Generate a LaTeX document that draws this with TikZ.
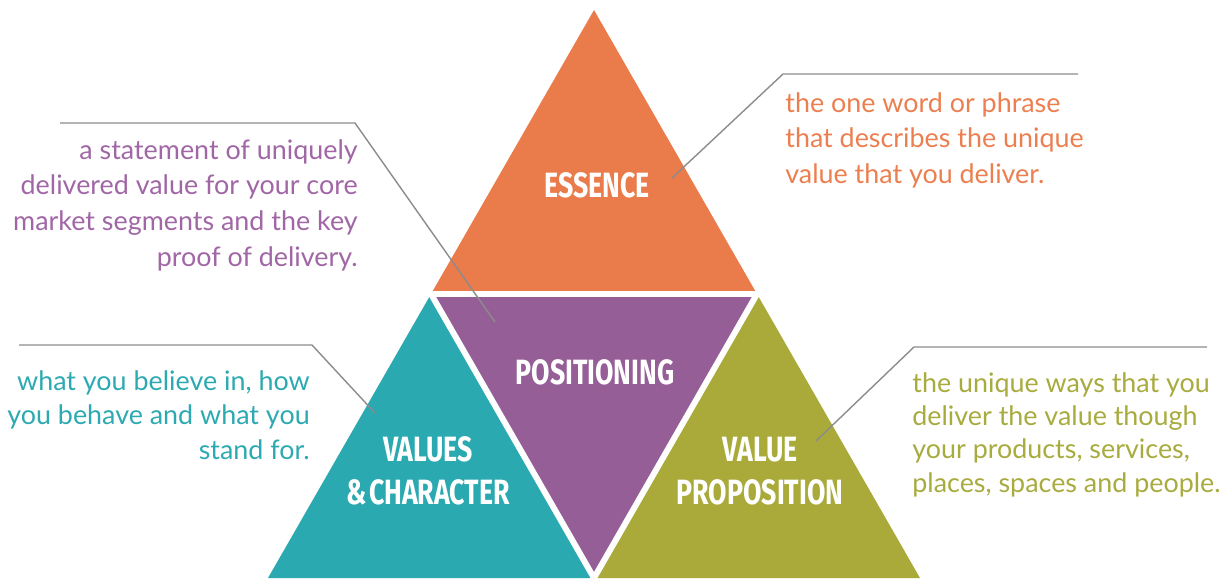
\documentclass[tikz,border=0pt]{standalone}
\usepackage{fontspec}
\setmainfont{Lato}
\newfontfamily\condfont[FakeStretch=0.76]{Fira Sans}
\definecolor{essenceC}{HTML}{EA7B4B}
\definecolor{positionC}{HTML}{955E97}
\definecolor{valuesC}{HTML}{2AA9B0}
\definecolor{propC}{HTML}{A9AA3A}
\definecolor{essenceT}{HTML}{EC7F50}
\definecolor{positionT}{HTML}{A066A5}
\definecolor{valuesT}{HTML}{2DAAB1}
\definecolor{propT}{HTML}{A8AB3E}
\definecolor{leaderC}{HTML}{8C8C8C}
\begin{document}
\begin{tikzpicture}[x=0.02cm,y=-0.02cm,
  seglabel/.style={font=\condfont\bfseries\fontsize{20}{23}\selectfont,text=white,align=center,inner sep=0},
  note/.style={font=\fontsize{15.3}{20.4}\selectfont,inner sep=0},
  leader/.style={draw=leaderC,line width=0.8pt},
  gap/.style={draw=white,line width=3.4pt}]
\useasboundingbox (0,0) rectangle (1225,579);
% corners of the pyramid and midpoints of its sides
\coordinate (A) at (594,10);
\coordinate (L) at (268,578);
\coordinate (R) at (920,578);
\coordinate (ML) at (431,294);
\coordinate (MR) at (757,294);
\coordinate (MB) at (594,578);
% the four segments
\fill[essenceC] (A) -- (ML) -- (MR) -- cycle;
\fill[positionC] (ML) -- (MR) -- (MB) -- cycle;
\fill[valuesC] (ML) -- (L) -- (MB) -- cycle;
\fill[propC] (MR) -- (MB) -- (R) -- cycle;
\draw[gap] ([xshift=-10]ML) -- ([xshift=10]MR);
\draw[gap] (ML) -- (MB);
\draw[gap] (MR) -- (MB);
% segment titles
\node[seglabel] (essence) at (597,185) {ESSENCE};
\node[seglabel] (positioning) at (595,372) {POSITIONING};
\node[seglabel] (values) at (428,471) {VALUES\\[1.5pt]\&\kern1.5pt CHARACTER};
\node[seglabel] (proposition) at (760,471) {VALUE\\[1.5pt]PROPOSITION};
% descriptions
\node[note,text=positionT,align=right,anchor=north east] (posnote) at (358,139)
  {a statement of uniquely\\delivered value for your core\\market segments and the key\\proof of delivery.};
\node[note,text=essenceT,align=left,anchor=north west] (essnote) at (785,92)
  {the one word or phrase\\that describes the unique\\value that you deliver.};
\node[note,text=valuesT,align=right,anchor=north east,font=\fontsize{15.3}{19.6}\selectfont] (valnote) at (310,370)
  {what you believe in, how\\you behave and what you\\stand for.};
\node[note,text=propT,align=left,anchor=north west,font=\fontsize{15.3}{19}\selectfont] (propnote) at (912,372)
  {the unique ways that you\\deliver the value though\\your products, services,\\places, spaces and people.};
% leader lines
\coordinate (p1) at (60,123);  \coordinate (p2) at (355,123);  \coordinate (p3) at (495,322);
\coordinate (e1) at (1078,74); \coordinate (e2) at (783,74);   \coordinate (e3) at (672,178);
\coordinate (v1) at (19,345);  \coordinate (v2) at (312,345);  \coordinate (v3) at (375,413);
\coordinate (r1) at (1207,347);\coordinate (r2) at (914,347);  \coordinate (r3) at (816,441);
\draw[leader] (p1) -- (p2) -- (p3);
\draw[leader] (e1) -- (e2) -- (e3);
\draw[leader] (v1) -- (v2) -- (v3);
\draw[leader] (r1) -- (r2) -- (r3);
\end{tikzpicture}
\end{document}
